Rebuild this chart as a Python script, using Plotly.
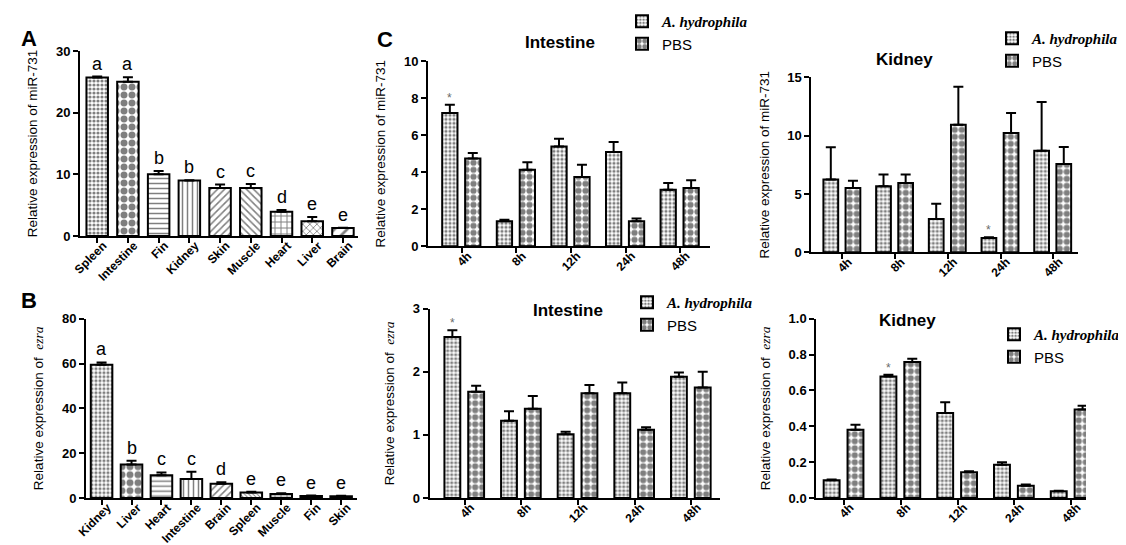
import plotly.graph_objects as go

# ---------- data ----------
# A: miR-731 in tissues
tissues_a = ["Spleen", "Intestine", "Fin", "Kidney", "Skin", "Muscle", "Heart", "Liver", "Brain"]
mir_a = [25.7, 25.0, 10.0, 9.0, 7.8, 7.8, 3.95, 2.4, 1.3]
mir_a_err = [0.16, 0.75, 0.54, 0.05, 0.54, 0.65, 0.27, 0.7, 0.05]
letters_a = ["a", "a", "b", "b", "c", "c", "d", "e", "e"]

# B: ezra in tissues
tissues_b = ["Kidney", "Liver", "Heart", "Intestine", "Brain", "Spleen", "Muscle", "Fin", "Skin"]
ezra_b = [59.5, 14.9, 10.1, 8.5, 6.4, 2.5, 1.8, 0.9, 0.75]
ezra_b_err = [1.0, 1.7, 1.3, 3.2, 0.6, 0.3, 0.3, 0.2, 0.2]
letters_b = ["a", "b", "c", "c", "d", "e", "e", "e", "e"]

# C: time course after infection
times = ["4h", "8h", "12h", "24h", "48h"]

int_mir_ah = [7.2, 1.35, 5.4, 5.1, 3.06]
int_mir_ah_err = [0.45, 0.09, 0.42, 0.54, 0.36]
int_mir_pbs = [4.74, 4.14, 3.75, 1.35, 3.15]
int_mir_pbs_err = [0.3, 0.4, 0.66, 0.15, 0.42]

kid_mir_ah = [6.23, 5.66, 2.86, 1.23, 8.71]
kid_mir_ah_err = [2.77, 1.0, 1.31, 0.06, 4.18]
kid_mir_pbs = [5.51, 5.94, 10.94, 10.23, 7.57]
kid_mir_pbs_err = [0.63, 0.72, 3.26, 1.71, 1.46]

int_ezra_ah = [2.55, 1.225, 1.01, 1.66, 1.92]
int_ezra_ah_err = [0.11, 0.15, 0.04, 0.17, 0.07]
int_ezra_pbs = [1.685, 1.415, 1.66, 1.08, 1.75]
int_ezra_pbs_err = [0.095, 0.2, 0.13, 0.04, 0.25]

kid_ezra_ah = [0.0985, 0.677, 0.474, 0.186, 0.037]
kid_ezra_ah_err = [0.004, 0.011, 0.06, 0.014, 0.004]
kid_ezra_pbs = [0.381, 0.758, 0.143, 0.069, 0.493]
kid_ezra_pbs_err = [0.028, 0.019, 0.006, 0.006, 0.022]

# significance marks (time index of the infected bar)
star_int_mir = 0
star_kid_mir = 3
star_int_ezra = 0
star_kid_ezra = 1

# ---------- styles ----------
W, H = 1126, 545
SANS = "Liberation Sans, Arial, sans-serif"

shape_a = [".", ".", "-", "|", "/", "\\", "+", "x", "/"]
size_a = [4, 8, 5, 5, 5, 5, 6, 5, 9]
solid_a = [0.5, 0.6, 0.3, 0.3, 0.3, 0.3, 0.3, 0.3, 0.3]
shape_b = [".", ".", "-", "|", "/", "\\", "+", "-", "-"]
size_b = [4, 8, 5, 5, 5, 3, 6, 5, 5]
solid_b = [0.5, 0.6, 0.3, 0.3, 0.3, 0.3, 0.3, 1.0, 1.0]

AH_NAME = "<span style=\"font-family:'Liberation Serif'\"><b><i>A. hydrophila</i></b></span>"
OFF_AH, OFF_PBS, BW = -0.36, 0.06, 0.28


def px_dom_x(a, b):
    return [a / W, b / W]


def px_dom_y(top, bottom):
    return [1 - bottom / H, 1 - top / H]


def bar_err(err):
    return dict(type="data", array=err, arrayminus=[0] * len(err), symmetric=False,
                thickness=2, width=5, color="black")


fig = go.Figure()
annos = []

# ---- panel A ----
fig.add_trace(go.Bar(
    x=tissues_a, y=mir_a, width=0.7, xaxis="x", yaxis="y", showlegend=False,
    marker=dict(color="white", line=dict(color="black", width=2),
                pattern=dict(shape=shape_a, size=size_a, solidity=solid_a, fgcolor="black", bgcolor="white")),
    error_y=bar_err(mir_a_err)))
for t, v, e, l in zip(tissues_a, mir_a, mir_a_err, letters_a):
    annos.append(dict(text=l, x=t, y=v + e, xref="x", yref="y", yanchor="bottom", showarrow=False,
                      yshift=1, font=dict(family=SANS, size=18, color="black")))

# ---- panel B ----
fig.add_trace(go.Bar(
    x=tissues_b, y=ezra_b, width=0.72, xaxis="x2", yaxis="y2", showlegend=False,
    marker=dict(color="white", line=dict(color="black", width=2),
                pattern=dict(shape=shape_b, size=size_b, solidity=solid_b, fgcolor="black", bgcolor="white")),
    error_y=bar_err(ezra_b_err)))
for t, v, e, l in zip(tissues_b, ezra_b, ezra_b_err, letters_b):
    annos.append(dict(text=l, x=t, y=v + e, xref="x2", yref="y2", yanchor="bottom", showarrow=False,
                      yshift=1, font=dict(family=SANS, size=18, color="black")))

# ---- panel C (four grouped charts) ----
c_panels = [
    ("x3", "y3", "legend", int_mir_ah, int_mir_ah_err, int_mir_pbs, int_mir_pbs_err, star_int_mir),
    ("x4", "y4", "legend2", kid_mir_ah, kid_mir_ah_err, kid_mir_pbs, kid_mir_pbs_err, star_kid_mir),
    ("x5", "y5", "legend3", int_ezra_ah, int_ezra_ah_err, int_ezra_pbs, int_ezra_pbs_err, star_int_ezra),
    ("x6", "y6", "legend4", kid_ezra_ah, kid_ezra_ah_err, kid_ezra_pbs, kid_ezra_pbs_err, star_kid_ezra),
]
for xa, ya, lg, ah, ah_e, pbs, pbs_e, star in c_panels:
    fig.add_trace(go.Bar(
        x=times, y=ah, name=AH_NAME, offset=OFF_AH, width=BW, xaxis=xa, yaxis=ya, legend=lg,
        marker=dict(color="white", line=dict(color="black", width=2),
                    pattern=dict(shape=".", size=4, solidity=0.5, fgcolor="black", bgcolor="white")),
        error_y=bar_err(ah_e)))
    fig.add_trace(go.Bar(
        x=times, y=pbs, name="PBS", offset=OFF_PBS, width=BW, xaxis=xa, yaxis=ya, legend=lg,
        marker=dict(color="white", line=dict(color="black", width=2),
                    pattern=dict(shape=".", size=7, solidity=0.62, fgcolor="black", bgcolor="white")),
        error_y=bar_err(pbs_e)))
    # asterisk over the infected bar
    annos.append(dict(text="*", x=star + OFF_AH + BW / 2, y=ah[star] + ah_e[star],
                      xref=xa, yref=ya, yanchor="bottom", showarrow=False, yshift=-2,
                      font=dict(family=SANS, size=12, color="#6a6a6a")))

# ---------- axes ----------
tickf = dict(family=SANS, size=13, color="black", weight="bold")
xtickf = dict(family=SANS, size=12, color="black", weight="bold")


def xax(dom, rng, anchor):
    return dict(domain=dom, range=rng, anchor=anchor, type="category", showline=True,
                linecolor="black", linewidth=2, ticks="outside", ticklen=5, tickwidth=2,
                tickcolor="black", tickangle=-45, tickfont=xtickf, showgrid=False,
                zeroline=False, fixedrange=True, automargin=False,
                ticklabelstandoff=-9, ticklabelshift=6)


def yax(dom, rng, dtick, anchor, title, fmt=None):
    d = dict(domain=dom, range=rng, dtick=dtick, anchor=anchor, showline=True,
             linecolor="black", linewidth=2, ticks="outside", ticklen=5, tickwidth=2,
             tickcolor="black", tickfont=tickf, showgrid=False, zeroline=False,
             automargin=False,
             title=dict(text=title, font=dict(family=SANS, size=13.5, color="black")))
    if fmt:
        d["tickformat"] = fmt
    return d


MIR = "Relative expression of miR-731"
EZRA = "Relative expression of  <span style=\"font-family:'Liberation Serif'\"><i>ezra</i></span>"

layout_axes = dict(
    xaxis=xax(px_dom_x(72, 350), [-0.56, 8.49], "y"),
    yaxis=yax(px_dom_y(43, 228), [0, 30], 10, "x", MIR),
    xaxis2=xax(px_dom_x(78, 349), [-0.52, 8.53], "y2"),
    yaxis2=yax(px_dom_y(310.7, 490), [0, 80], 20, "x2", EZRA),
    xaxis3=xax(px_dom_x(420, 701.7), [-0.62, 4.54], "y3"),
    yaxis3=yax(px_dom_y(53.3, 238.3), [0, 10], 2, "x3", MIR),
    xaxis4=xax(px_dom_x(803.3, 1070), [-0.59, 4.47], "y4"),
    yaxis4=yax(px_dom_y(69.3, 244.3), [0, 15], 5, "x4", MIR),
    xaxis5=xax(px_dom_x(421.7, 711.7), [-0.62, 4.5], "y5"),
    yaxis5=yax(px_dom_y(300.7, 490), [0, 3], 1, "x5", EZRA),
    xaxis6=xax(px_dom_x(808.3, 1078), [-0.49, 4.26], "y6"),
    yaxis6=yax(px_dom_y(310.7, 490), [0, 1], 0.2, "x6", EZRA, ".1f"),
)


def leg(xp, yp):
    return dict(x=xp / W, y=1 - yp / H, xanchor="left", yanchor="top",
                bgcolor="rgba(0,0,0,0)", font=dict(family=SANS, size=15, color="black"),
                tracegroupgap=0)


for txt, xp, yp, size in [("A", 11, 16, 22), ("B", 11, 292, 22), ("C", 377, 17, 22)]:
    annos.append(dict(text=f"<b>{txt}</b>", x=xp / W, y=1 - yp / H, xref="paper", yref="paper",
                      showarrow=False, font=dict(family=SANS, size=size, color="black")))
for txt, xp, yp in [("Intestine", 552, 23), ("Kidney", 927, 40), ("Intestine", 560, 302), ("Kidney", 930, 312)]:
    annos.append(dict(text=f"<b>{txt}</b>", x=xp / W, y=1 - yp / H, xref="paper", yref="paper",
                      showarrow=False, font=dict(family=SANS, size=17, color="black")))

fig.update_layout(
    width=W, height=H,
    margin=dict(l=0, r=0, t=0, b=0, autoexpand=False),
    paper_bgcolor="white", plot_bgcolor="white",
    barmode="overlay",
    font=dict(family=SANS, color="black"),
    legend=leg(614, -3),
    legend2=leg(984, 14),
    legend3=leg(619, 278),
    legend4=leg(986, 310),
    annotations=annos,
    **layout_axes,
)

fig.write_html("out.html")
